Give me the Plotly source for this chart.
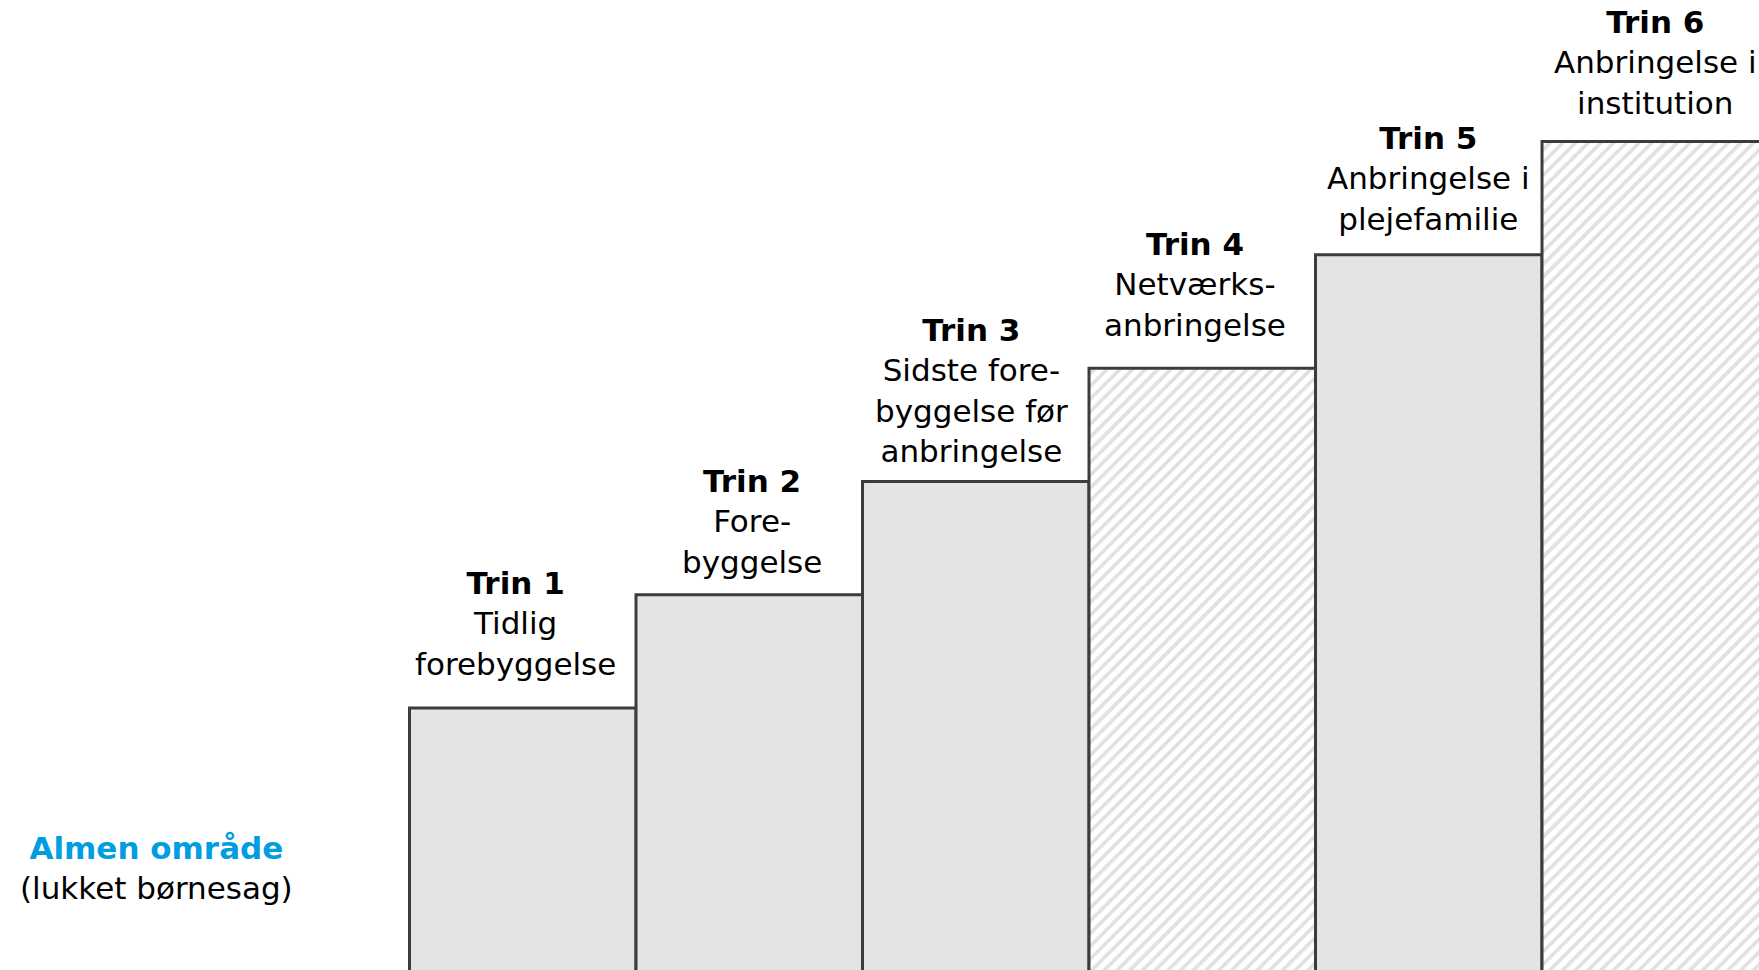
import plotly.graph_objects as go

steps = [1, 2, 3, 4, 5, 6]
levels = [1, 2, 3, 4, 5, 6]
step_titles = ["Trin 1", "Trin 2", "Trin 3", "Trin 4", "Trin 5", "Trin 6"]
step_texts = [
    "Tidlig<br>forebyggelse",
    "Fore-<br>byggelse",
    "Sidste fore-<br>byggelse før<br>anbringelse",
    "Netværks-<br>anbringelse",
    "Anbringelse i<br>plejefamilie",
    "Anbringelse i<br>institution",
]
hatched = [False, False, False, True, False, True]

FONT = "DejaVu Sans"
GREY = "#e4e4e4"
HATCH = "#e0e0e0"
EDGE = "#3c3c3c"
BLUE = "#009ee0"

# small nudges so the labels sit like in the original
label_dx = [-0.03, 0.012, -0.02, -0.03, 0, 0]
label_dy = [24, 13, 10, 23, 16, 19]

fig = go.Figure()
for hatch in (False, True):
    xs = [s for s, h in zip(steps, hatched) if h == hatch]
    ys = [v + 2 for v, h in zip(levels, hatched) if h == hatch]
    marker = dict(color="white" if hatch else GREY, line=dict(color=EDGE, width=3))
    if hatch:
        marker["pattern"] = dict(shape="/", fillmode="replace", fgcolor=HATCH,
                                 bgcolor="white", fgopacity=1, size=9, solidity=0.4)
    fig.add_trace(go.Bar(x=xs, y=ys, base=-2, width=1, marker=marker, hoverinfo="skip"))

for x, y, t, s, dx, dy in zip(steps, levels, step_titles, step_texts, label_dx, label_dy):
    fig.add_annotation(
        x=x + dx, y=y, xref="x", yref="y",
        text=f"<b>{t}</b><br>{s}",
        showarrow=False, yanchor="bottom", yshift=dy,
        font=dict(family=FONT, size=31, color="black"),
        align="center",
    )

fig.add_annotation(
    x=-0.619, y=-0.408, xref="x", yref="y",
    text=f"<b><span style='color:{BLUE}'>Almen område</span></b><br>(lukket børnesag)",
    showarrow=False, yanchor="middle",
    font=dict(family=FONT, size=31, color="black"),
    align="center",
)

fig.update_layout(
    width=1759, height=970,
    margin=dict(l=0, r=0, t=0, b=0),
    paper_bgcolor="white", plot_bgcolor="white",
    showlegend=False, barmode="overlay",
    xaxis=dict(visible=False, range=[-1.308, 6.458]),
    yaxis=dict(visible=False, range=[-1.312, 7.249]),
)

fig.write_html("out.html", config={"displayModeBar": False},
               post_script="document.body.style.margin='0';document.body.style.overflow='hidden';")
